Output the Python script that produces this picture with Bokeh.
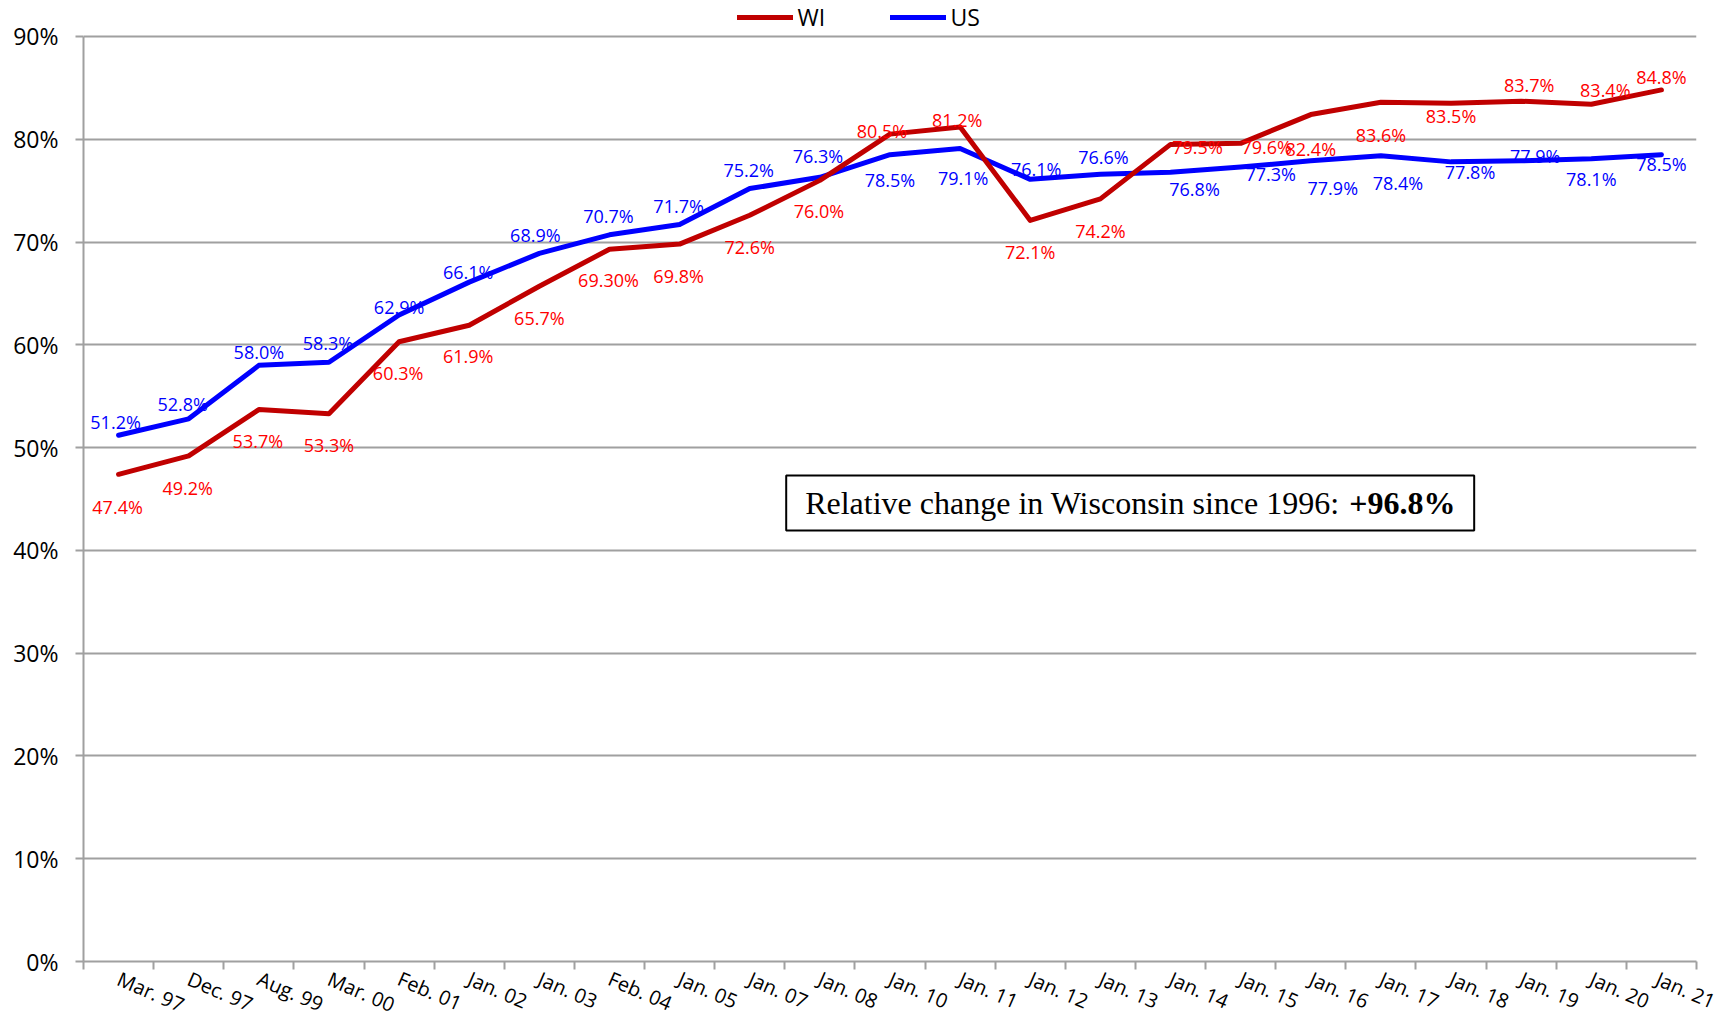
import numpy as np
from bokeh.plotting import figure
from bokeh.models import (ColumnDataSource, Range1d, FixedTicker, PrintfTickFormatter,
                          Legend, LegendItem, Label, BoxAnnotation)
from bokeh.core.properties import value
from bokeh.embed import file_html
from bokeh.resources import INLINE

# ---------------- data ----------------
categories = ["Mar. 97", "Dec. 97", "Aug. 99", "Mar. 00", "Feb. 01", "Jan. 02", "Jan. 03",
              "Feb. 04", "Jan. 05", "Jan. 07", "Jan. 08", "Jan. 10", "Jan. 11", "Jan. 12",
              "Jan. 13", "Jan. 14", "Jan. 15", "Jan. 16", "Jan. 17", "Jan. 18", "Jan. 19",
              "Jan. 20", "Jan. 21"]
wi_values = [47.4, 49.2, 53.7, 53.3, 60.3, 61.9, 65.7, 69.3, 69.8, 72.6, 76.0, 80.5, 81.2,
             72.1, 74.2, 79.5, 79.6, 82.4, 83.6, 83.5, 83.7, 83.4, 84.8]
us_values = [51.2, 52.8, 58.0, 58.3, 62.9, 66.1, 68.9, 70.7, 71.7, 75.2, 76.3, 78.5, 79.1,
             76.1, 76.6, 76.8, 77.3, 77.9, 78.4, 77.8, 77.9, 78.1, 78.5]
wi_text = ["47.4%", "49.2%", "53.7%", "53.3%", "60.3%", "61.9%", "65.7%", "69.30%", "69.8%",
           "72.6%", "76.0%", "80.5%", "81.2%", "72.1%", "74.2%", "79.5%", "79.6%", "82.4%",
           "83.6%", "83.5%", "83.7%", "83.4%", "84.8%"]
us_text = ["51.2%", "52.8%", "58.0%", "58.3%", "62.9%", "66.1%", "68.9%", "70.7%", "71.7%",
           "75.2%", "76.3%", "78.5%", "79.1%", "76.1%", "76.6%", "76.8%", "77.3%", "77.9%",
           "78.4%", "77.8%", "77.9%", "78.1%", "78.5%"]
y_ticks = [0, 10, 20, 30, 40, 50, 60, 70, 80, 90]
note_text = "Relative change in Wisconsin since 1996:"
note_value = "+96.8%"

# ---------------- label placement (screen px offsets) ----------------
wi_dx = [-1, -1, -1, 0, -1, -1, 0, -1, -1, 0, -1, -8, -3, 0, 0, 27, 26, 0, 0, 0, 8, 14, 0]
wi_dy = [33, 32, 31, 31, 31, 31, 32, 31, 32, 32, 31, -3, -7, 32, 32, 3, 4, 34, 33, 13, -16, -14, -13]
us_dx = [-3, -6, 0, -1, 0, -1, -4, -1, -1, -1, -2, 0, 3, 6, 3, 24, 30, 22, 17, 19, 14, 0, 0]
us_dy = [-13, -15, -13, -19, -8, -10, -18, -19, -19, -19, -21, 25, 29, -10, -17, 17, 7, 27, 27, 10, -5, 20, 9]

n = len(categories)
xc = np.arange(n) + 0.5

FONT = "Open Sans"
GRID = "#A0A0A0"

# frame spans the full height above the x axis; the value axis stops at 90%
p = figure(width=1719, height=1033, output_backend="svg", toolbar_location=None,
           x_range=Range1d(0, n), y_range=Range1d(0, 93.5),
           min_border_left=83, min_border_right=23, min_border_top=0, min_border_bottom=70)
p.outline_line_color = None
p.background_fill_color = "white"

# axes
xa = p.xaxis[0]
xa.ticker = FixedTicker(ticks=list(xc), minor_ticks=list(range(n + 1)))
xa.major_label_overrides = {float(x): c for x, c in zip(xc, categories)}
xa.major_label_orientation = -0.41
xa.major_label_text_font = FONT
xa.major_label_text_font_size = "20px"
xa.major_label_text_color = "black"
xa.major_label_standoff = 8
xa.major_tick_out = 0
xa.major_tick_in = 0
xa.minor_tick_out = 8
xa.minor_tick_in = 0
xa.minor_tick_line_color = GRID
xa.minor_tick_line_width = 2
xa.axis_line_color = GRID
xa.axis_line_width = 2

ya = p.yaxis[0]
ya.bounds = (0, 90)
ya.ticker = FixedTicker(ticks=y_ticks, minor_ticks=[])
ya.formatter = PrintfTickFormatter(format="%d%%")
ya.major_label_text_font = FONT
ya.major_label_text_font_size = "23px"
ya.major_label_text_color = "black"
ya.major_label_standoff = 17
ya.major_tick_out = 8
ya.major_tick_in = 0
ya.major_tick_line_color = GRID
ya.major_tick_line_width = 2
ya.axis_line_color = GRID
ya.axis_line_width = 2

p.xgrid.grid_line_color = None
p.ygrid.ticker = FixedTicker(ticks=y_ticks)
p.ygrid.grid_line_color = GRID
p.ygrid.grid_line_width = 2

wi_src = ColumnDataSource(dict(x=xc, y=wi_values, t=wi_text, dx=wi_dx, dy=wi_dy))
us_src = ColumnDataSource(dict(x=xc, y=us_values, t=us_text, dx=us_dx, dy=us_dy))

us_r = p.line("x", "y", source=us_src, line_color="#0000FF", line_width=5,
              line_cap="round", line_join="round")
wi_r = p.line("x", "y", source=wi_src, line_color="#C00000", line_width=5,
              line_cap="round", line_join="round")

p.text("x", "y", text="t", x_offset="dx", y_offset="dy", source=wi_src,
       text_font=value(FONT), text_font_size="18px", text_color="#FF0000",
       text_align="center", text_baseline="middle")
p.text("x", "y", text="t", x_offset="dx", y_offset="dy", source=us_src,
       text_font=value(FONT), text_font_size="18px", text_color="#0000FF",
       text_align="center", text_baseline="middle")

legend = Legend(items=[LegendItem(label="WI", renderers=[wi_r]),
                       LegendItem(label="US", renderers=[us_r])],
                orientation="horizontal", location="top",
                glyph_width=56, glyph_height=20, label_standoff=5, label_width=92, spacing=0,
                padding=0, margin=1, border_line_color=None, background_fill_alpha=0,
                label_text_font=FONT, label_text_font_size="23px", label_text_color="black")
p.add_layout(legend)

box = BoxAnnotation(left=10.02, right=19.83, bottom=41.94, top=47.28,
                    fill_color="white", fill_alpha=1.0, line_color="black",
                    line_alpha=1.0, line_width=2)
p.add_layout(box)
p.add_layout(Label(x=10.29, y=44.61, text=note_text, text_font="Liberation Serif",
                   text_font_size="32px", text_align="left", text_baseline="middle",
                   text_color="black"))
p.add_layout(Label(x=18.05, y=44.61, text=note_value, text_font="Liberation Serif",
                   text_font_size="32px", text_font_style="bold", text_align="left",
                   text_baseline="middle", text_color="black"))

open("out.html", "w").write(file_html(p, INLINE))
